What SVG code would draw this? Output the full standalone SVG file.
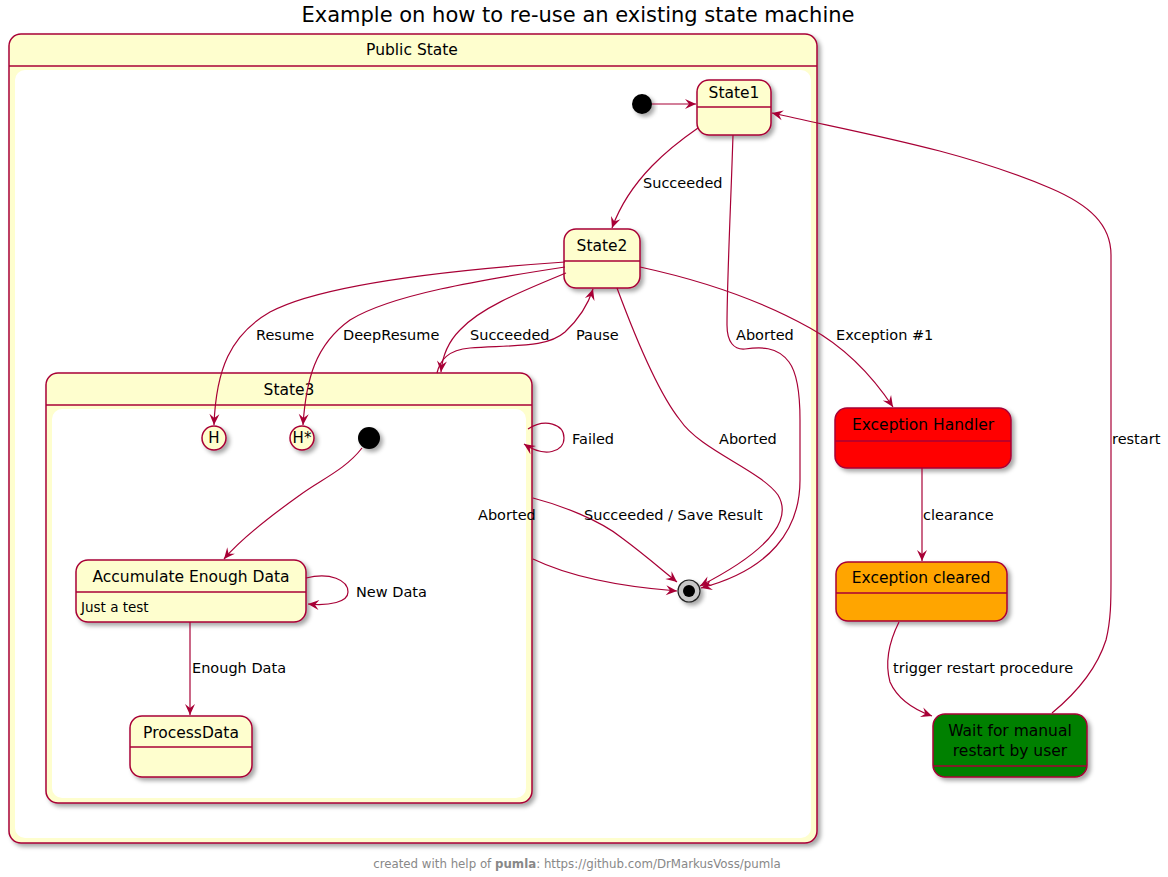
<svg xmlns="http://www.w3.org/2000/svg" width="1168" height="877" viewBox="0 0 1168 877">
<defs>
<filter id="sh" x="-20%" y="-20%" width="150%" height="150%">
<feDropShadow dx="3" dy="3" stdDeviation="2" flood-color="#000" flood-opacity="0.35"/>
</filter>
<marker id="ah" viewBox="-12 -6 13 12" refX="0" refY="0" markerWidth="13" markerHeight="12" orient="auto" markerUnits="userSpaceOnUse">
<path d="M0,0 L-11,-5 L-7,0 L-11,5 Z" fill="#A80036"/>
</marker>
</defs>
<style>
text{font-family:"DejaVu Sans","Liberation Sans",sans-serif;fill:#000}
.st{fill:#FEFECE;stroke:#A80036;stroke-width:1.5}
.sep{stroke:#A80036;stroke-width:1.5}
.nm{font-size:15.5px;text-anchor:middle;dominant-baseline:central}
.lb{font-size:14.5px;dominant-baseline:central}
.cn path{fill:none;stroke:#A80036;stroke-width:1.2;marker-end:url(#ah)}
.hist{font-size:15px;text-anchor:middle;dominant-baseline:central}
</style>
<rect width="1168" height="877" fill="#fff"/>
<text x="578" y="15" font-size="21" text-anchor="middle" dominant-baseline="central">Example on how to re-use an existing state machine</text>

<g id="PublicState">
<rect class="st" x="9" y="34" width="808" height="809" rx="12" filter="url(#sh)"/>
<line class="sep" x1="9" y1="66" x2="817" y2="66"/>
<rect x="15" y="70" width="796" height="768" rx="10" fill="#fff"/>
<text class="nm" x="412" y="50">Public State</text>
</g>

<g id="State3">
<rect class="st" x="46" y="373" width="486" height="430" rx="12" filter="url(#sh)"/>
<line class="sep" x1="46" y1="405" x2="532" y2="405"/>
<rect x="52" y="409" width="474" height="389" rx="10" fill="#fff"/>
<text class="nm" x="289" y="390">State3</text>
</g>

<g id="init1"><circle cx="642" cy="104" r="10" fill="#000" filter="url(#sh)"/></g>

<g id="State1">
<rect class="st" x="697" y="80" width="74" height="55" rx="12" filter="url(#sh)"/>
<line class="sep" x1="697" y1="107" x2="771" y2="107"/>
<text class="nm" x="734" y="93">State1</text>
</g>

<g id="State2">
<rect class="st" x="564" y="229" width="76" height="59" rx="12" filter="url(#sh)"/>
<line class="sep" x1="564" y1="261" x2="640" y2="261"/>
<text class="nm" x="602" y="246">State2</text>
</g>

<g id="H">
<circle class="st" cx="214" cy="438" r="12" filter="url(#sh)"/>
<text class="hist" x="214" y="438">H</text>
</g>
<g id="Hstar">
<circle class="st" cx="302" cy="438" r="12" filter="url(#sh)"/>
<text class="hist" x="302" y="438">H*</text>
</g>
<g id="init3"><circle cx="369" cy="438" r="11" fill="#000" filter="url(#sh)"/></g>

<g id="Accumulate">
<rect class="st" x="76" y="560" width="230" height="62" rx="12" filter="url(#sh)"/>
<line class="sep" x1="76" y1="592" x2="306" y2="592"/>
<text class="nm" x="191" y="577">Accumulate Enough Data</text>
<text x="81" y="607" font-size="13.5" dominant-baseline="central">Just a test</text>
</g>

<g id="ProcessData">
<rect class="st" x="130" y="716" width="122" height="61" rx="12" filter="url(#sh)"/>
<line class="sep" x1="130" y1="747" x2="252" y2="747"/>
<text class="nm" x="191" y="733">ProcessData</text>
</g>

<g id="final">
<circle cx="689" cy="591" r="11" fill="#c8c8c8" stroke="#222" stroke-width="1.2" filter="url(#sh)"/>
<circle cx="689" cy="591" r="6" fill="#000"/>
</g>

<g id="ExceptionHandler">
<rect x="835" y="408" width="176" height="60" rx="12" fill="#FF0000" stroke="#A80036" stroke-width="1.5" filter="url(#sh)"/>
<line class="sep" x1="835" y1="441" x2="1011" y2="441"/>
<text class="nm" x="923" y="425">Exception Handler</text>
</g>

<g id="ExceptionCleared">
<rect x="836" y="562" width="171" height="59" rx="12" fill="#FFA500" stroke="#A80036" stroke-width="1.5" filter="url(#sh)"/>
<line class="sep" x1="836" y1="593" x2="1007" y2="593"/>
<text class="nm" x="921" y="578">Exception cleared</text>
</g>

<g id="WaitRestart">
<rect x="933" y="714" width="154" height="63" rx="12" fill="#008000" stroke="#A80036" stroke-width="1.5" filter="url(#sh)"/>
<line class="sep" x1="933" y1="766" x2="1087" y2="766"/>
<text class="nm" x="1010" y="731">Wait for manual</text>
<text class="nm" x="1010" y="751">restart by user</text>
</g>

<g id="connectors" class="cn">
<path d="M652,104 L696,104"/>
<path d="M698,128 C672,146 630,178 612,228"/>
<path d="M733,135 C731,200 727,280 727,325 C727,342 734,350 745,349 C760,347 777,346 789,362 C798,374 800,395 800,420 L800,480 C800,530 770,570 701,588"/>
<path d="M565,262 C450,270 320,285 270,312 C230,335 216,370 214,425"/>
<path d="M565,267 C480,280 390,295 350,320 C315,345 306,380 303,425"/>
<path d="M566,273 C520,292 480,308 460,330 C445,345 442,360 441,372"/>
<path d="M437,373 C440,360 448,350 470,348 C520,345 548,347 565,332 C580,318 588,305 593,289"/>
<path d="M617,288 C640,350 660,395 680,420 C700,450 760,470 778,495 C790,515 780,545 700,586"/>
<path d="M640,267 C700,280 760,300 810,328 C850,350 875,380 893,407"/>
<path d="M528,429 C545,418 564,424 564,438 C564,452 545,458 524,444"/>
<path d="M533,498 C560,505 600,520 622,538 C645,555 662,570 677,582"/>
<path d="M533,559 C560,572 600,585 677,591"/>
<path d="M362,448 C345,470 320,480 300,495 C265,520 240,540 224,559"/>
<path d="M306,578 C330,572 348,580 348,592 C348,602 330,606 308,604"/>
<path d="M190,622 L190,715"/>
<path d="M922,468 L922,561"/>
<path d="M899,622 C890,640 884,660 890,682 C898,700 915,710 932,716"/>
<path d="M1052,713 C1080,690 1098,665 1106,640 C1111,620 1111,600 1111,580 L1111,255 C1111,225 1090,205 1050,188 C960,150 870,135 772,113"/>
</g>

<g id="labels">
<text class="lb" x="643" y="183">Succeeded</text>
<text class="lb" x="736" y="335">Aborted</text>
<text class="lb" x="256" y="335">Resume</text>
<text class="lb" x="343" y="335">DeepResume</text>
<text class="lb" x="470" y="335">Succeeded</text>
<text class="lb" x="576" y="335">Pause</text>
<text class="lb" x="836" y="335">Exception #1</text>
<text class="lb" x="719" y="439">Aborted</text>
<text class="lb" x="572" y="439">Failed</text>
<text class="lb" x="478" y="515">Aborted</text>
<text class="lb" x="584" y="515">Succeeded / Save Result</text>
<text class="lb" x="356" y="592">New Data</text>
<text class="lb" x="192" y="668">Enough Data</text>
<text class="lb" x="923" y="515">clearance</text>
<text class="lb" x="893" y="668">trigger restart procedure</text>
<text class="lb" x="1112" y="439">restart</text>
</g>

<text x="577" y="864" font-size="11.8" text-anchor="middle" dominant-baseline="central" style="fill:#888">created with help of <tspan font-weight="bold">pumla</tspan>: https://github.com/DrMarkusVoss/pumla</text>
</svg>
